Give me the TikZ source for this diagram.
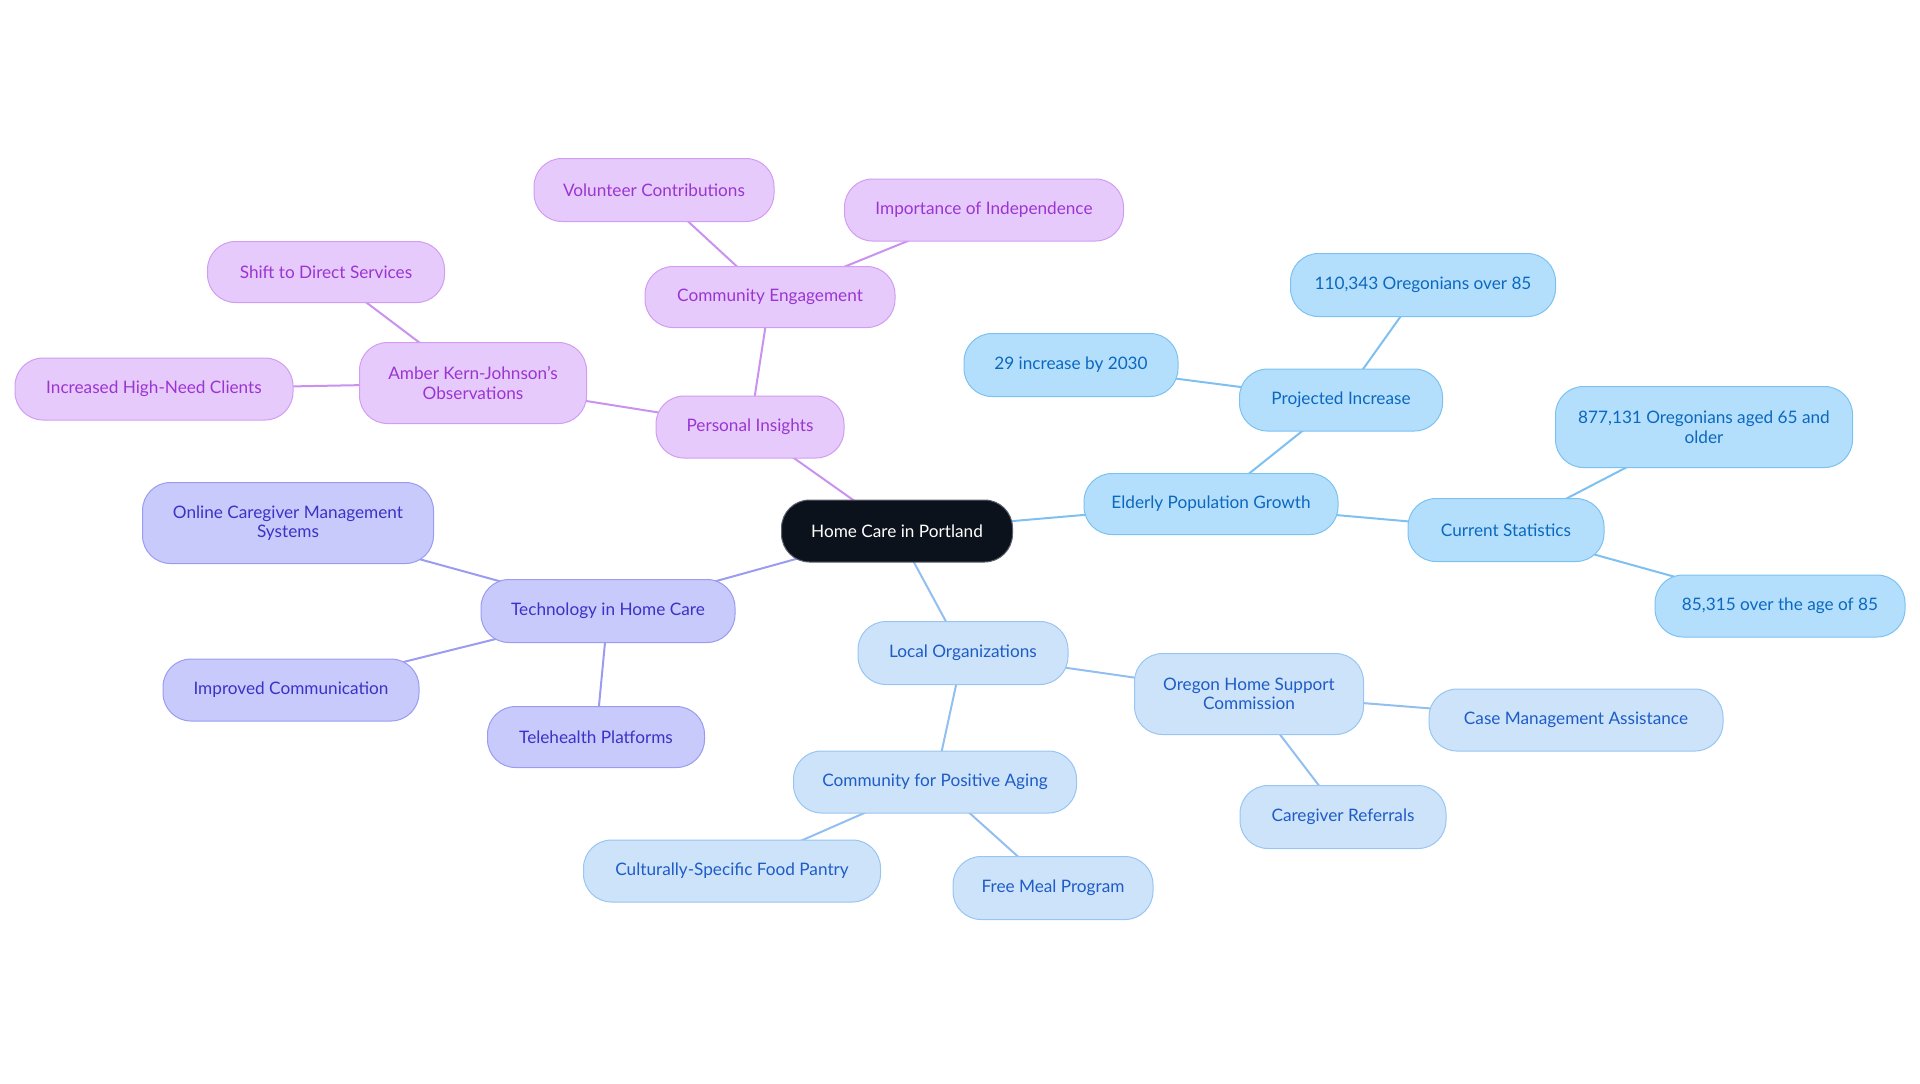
\documentclass[tikz,border=0pt]{standalone}
\usepackage{fontspec}
\setmainfont{Lato}
\usetikzlibrary{backgrounds}
\definecolor{rootfill}{HTML}{0C121B}
\definecolor{rootdraw}{HTML}{5A6070}
\definecolor{efill}{HTML}{B3DFFD}
\definecolor{edraw}{HTML}{7CC2F1}
\definecolor{etext}{HTML}{0C68BE}
\definecolor{lfill}{HTML}{CDE3FA}
\definecolor{ldraw}{HTML}{98C5F1}
\definecolor{ltext}{HTML}{1E5CC6}
\definecolor{tfill}{HTML}{C8CAFB}
\definecolor{tdraw}{HTML}{999CF1}
\definecolor{ttext}{HTML}{3B32C6}
\definecolor{pfill}{HTML}{E7CAFC}
\definecolor{pdraw}{HTML}{D29DF1}
\definecolor{ptext}{HTML}{9A35D2}
\definecolor{eline}{HTML}{7EC0F0}
\definecolor{lline}{HTML}{92BFF0}
\definecolor{tline}{HTML}{9B9CF0}
\definecolor{pline}{HTML}{C992F1}
\tikzset{
  box/.style={rounded corners=14pt, line width=0.5pt, align=center, inner sep=0pt, font=\fontsize{8.6}{9.8}\selectfont},
  rootbox/.style={box, fill=rootfill, draw=rootdraw, text=white},
  ebox/.style={box, fill=efill, draw=edraw, text=etext},
  lbox/.style={box, fill=lfill, draw=ldraw, text=ltext},
  tbox/.style={box, fill=tfill, draw=tdraw, text=ttext},
  pbox/.style={box, fill=pfill, draw=pdraw, text=ptext},
  sz/.style 2 args={minimum width=#1*0.5pt, minimum height=#2*0.5pt},
  eedge/.style={draw=eline, line width=1pt},
  ledge/.style={draw=lline, line width=1pt},
  tedge/.style={draw=tline, line width=1pt},
  pedge/.style={draw=pline, line width=1pt},
}
\begin{document}
\begin{tikzpicture}[x=0.5pt, y=-0.5pt]
\useasboundingbox (0,0) rectangle (1920,1083);
% root
\node[rootbox, sz={231}{62}] (root) at (897,531) {Home Care in Portland};
% elderly
\node[ebox, sz={254}{61}] (epg) at (1211,504) {Elderly Population Growth};
\node[ebox, sz={203}{62}] (proj) at (1341,400) {Projected Increase};
\node[ebox, sz={265}{63}] (o85) at (1423,285) {110,343 Oregonians over 85};
\node[ebox, sz={214}{63}] (inc) at (1071,365) {29 increase by 2030};
\node[ebox, sz={196}{63}] (cur) at (1506,530) {Current Statistics};
\node[ebox, sz={297}{81}] (o65) at (1704,427) {877,131 Oregonians aged 65 and\\older};
\node[ebox, sz={250}{62}] (a85) at (1780,606) {85,315 over the age of 85};
% local
\node[lbox, sz={210}{63}] (loc) at (963,653) {Local Organizations};
\node[lbox, sz={229}{81}] (ohsc) at (1249,694) {Oregon Home Support\\Commission};
\node[lbox, sz={294}{62}] (cma) at (1576,720) {Case Management Assistance};
\node[lbox, sz={206}{63}] (crf) at (1343,817) {Caregiver Referrals};
\node[lbox, sz={283}{62}] (cpa) at (935,782) {Community for Positive Aging};
\node[lbox, sz={297}{62}] (cfp) at (732,871) {Culturally-Specific Food Pantry};
\node[lbox, sz={200}{63}] (fmp) at (1053,888) {Free Meal Program};
% technology
\node[tbox, sz={254}{63}] (tech) at (608,611) {Technology in Home Care};
\node[tbox, sz={291}{81}] (ocms) at (288,523) {Online Caregiver Management\\Systems};
\node[tbox, sz={256}{62}] (icom) at (291,690) {Improved Communication};
\node[tbox, sz={217}{61}] (tele) at (596,737) {Telehealth Platforms};
% personal
\node[pbox, sz={188}{62}] (pers) at (750,427) {Personal Insights};
\node[pbox, sz={227}{81}] (akj) at (473,383) {Amber Kern-Johnson's\\Observations};
\node[pbox, sz={237}{61}] (shift) at (326,272) {Shift to Direct Services};
\node[pbox, sz={278}{62}] (hnc) at (154,389) {Increased High-Need Clients};
\node[pbox, sz={250}{61}] (ceng) at (770,297) {Community Engagement};
\node[pbox, sz={240}{63}] (vol) at (654,190) {Volunteer Contributions};
\node[pbox, sz={279}{62}] (indep) at (984,210) {Importance of Independence};
\begin{scope}[on background layer]
\draw[eedge] (root.center) -- (epg.center);
\draw[eedge] (epg.center) -- (proj.center);
\draw[eedge] (proj.center) -- (o85.center);
\draw[eedge] (proj.center) -- (inc.center);
\draw[eedge] (epg.center) -- (cur.center);
\draw[eedge] (cur.center) -- (o65.center);
\draw[eedge] (cur.center) -- (a85.center);
\draw[ledge] (root.center) -- (loc.center);
\draw[ledge] (loc.center) -- (ohsc.center);
\draw[ledge] (ohsc.center) -- (cma.center);
\draw[ledge] (ohsc.center) -- (crf.center);
\draw[ledge] (loc.center) -- (cpa.center);
\draw[ledge] (cpa.center) -- (cfp.center);
\draw[ledge] (cpa.center) -- (fmp.center);
\draw[tedge] (root.center) -- (tech.center);
\draw[tedge] (tech.center) -- (ocms.center);
\draw[tedge] (tech.center) -- (icom.center);
\draw[tedge] (tech.center) -- (tele.center);
\draw[pedge] (root.center) -- (pers.center);
\draw[pedge] (pers.center) -- (akj.center);
\draw[pedge] (akj.center) -- (shift.center);
\draw[pedge] (akj.center) -- (hnc.center);
\draw[pedge] (pers.center) -- (ceng.center);
\draw[pedge] (ceng.center) -- (vol.center);
\draw[pedge] (ceng.center) -- (indep.center);
\end{scope}
\end{tikzpicture}
\end{document}
